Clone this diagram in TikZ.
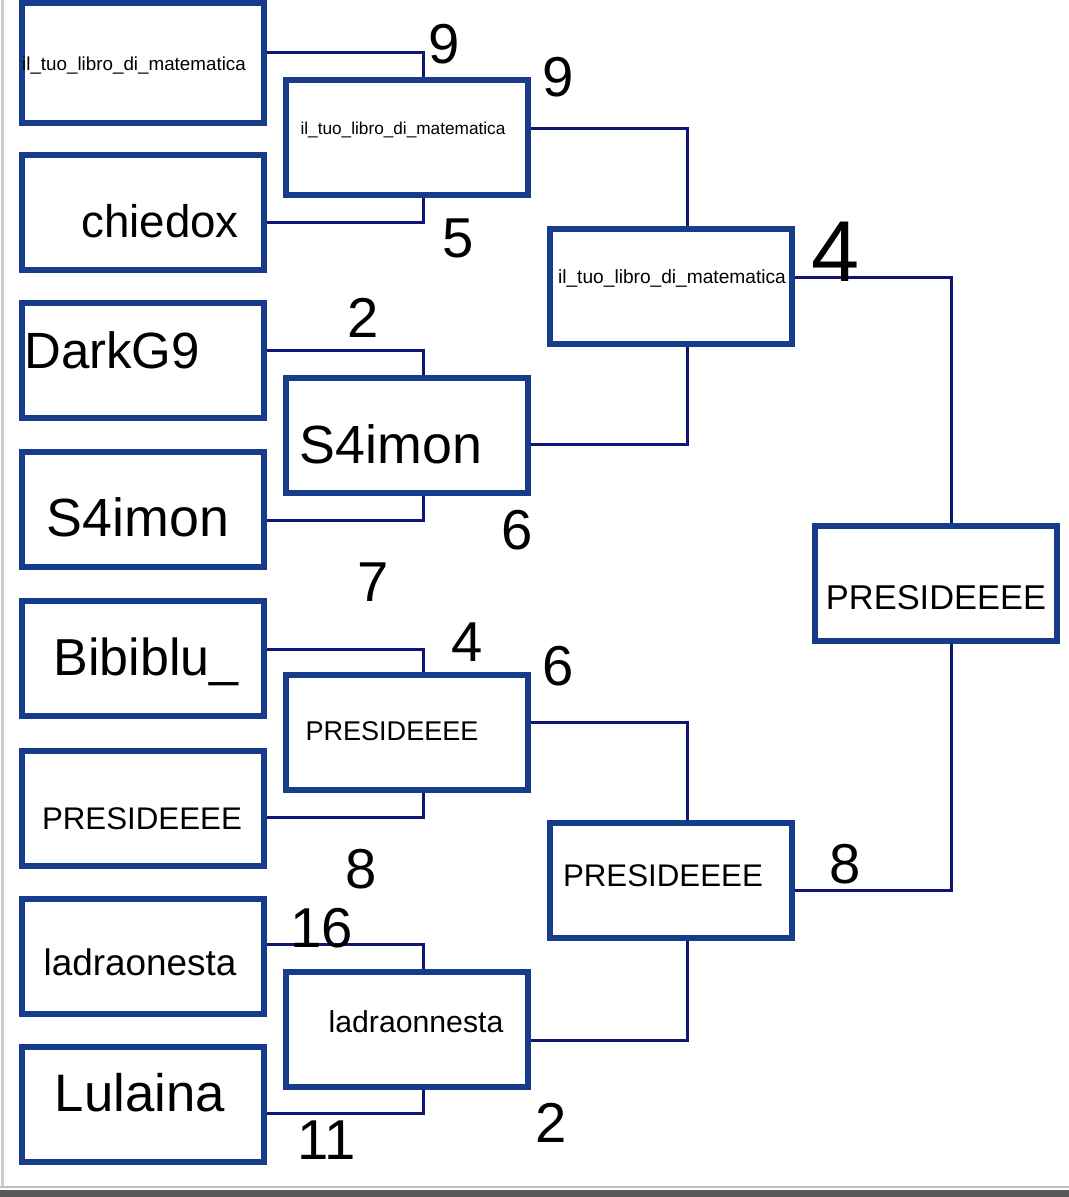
\documentclass[tikz,border=0pt]{standalone}
\usepackage{fontspec}
\setmainfont{Liberation Sans}
\definecolor{boxblue}{RGB}{24,60,140}
\definecolor{linkblue}{RGB}{16,22,120}
\tikzset
{
  slot/.style={draw=boxblue,line width=0.6mm,fill=white,minimum width=2.42cm,minimum height=1.15cm,inner sep=0pt},
  link/.style={draw=linkblue,line width=0.3mm},
  player/.style={inner sep=0pt,font=\fontsize{#1}{#1}\selectfont},
  score/.style={inner sep=0pt,font=\fontsize{16pt}{16pt}\selectfont}
}
\begin{document}
\begin{tikzpicture}[line join=miter]
  \useasboundingbox (0,0) rectangle (10.69,-11.97);
  % cornice
  \draw[gray!40,line width=0.3mm] (0.03,0) -- (0.03,-11.88);
  \draw[gray!50,line width=0.2mm] (0,-11.87) -- (10.69,-11.87);
  \fill[gray!70!black] (0,-11.90) rectangle (10.69,-11.97);
  % primo turno
  \node[slot,minimum height=1.2cm] (b1) at (1.425,-0.63) {};
  \node[slot] (b2) at (1.425,-2.12)  {};
  \node[slot] (b3) at (1.425,-3.60)  {};
  \node[slot] (b4) at (1.425,-5.09)  {};
  \node[slot] (b5) at (1.425,-6.58)  {};
  \node[slot] (b6) at (1.425,-8.08)  {};
  \node[slot] (b7) at (1.425,-9.56)  {};
  \node[slot] (b8) at (1.425,-11.04) {};
  % secondo turno
  \node[slot] (c1) at (4.065,-1.37)  {};
  \node[slot] (c2) at (4.065,-4.35)  {};
  \node[slot] (c3) at (4.065,-7.32)  {};
  \node[slot] (c4) at (4.065,-10.29) {};
  % semifinali e finale
  \node[slot] (d1) at (6.71,-2.865) {};
  \node[slot] (d2) at (6.71,-8.80)  {};
  \node[slot] (f)  at (9.355,-5.83) {};
  % collegamenti
  \draw[link] (b1.east |- 0,-0.52)  -| (c1.north -| 4.23,0);
  \draw[link] (b2.east |- 0,-2.22)  -| (c1.south -| 4.23,0);
  \draw[link] (b3.east |- 0,-3.50)  -| (c2.north -| 4.23,0);
  \draw[link] (b4.east |- 0,-5.20)  -| (c2.south -| 4.23,0);
  \draw[link] (b5.east |- 0,-6.49)  -| (c3.north -| 4.23,0);
  \draw[link] (b6.east |- 0,-8.17)  -| (c3.south -| 4.23,0);
  \draw[link] (b7.east |- 0,-9.44)  -| (c4.north -| 4.23,0);
  \draw[link] (b8.east |- 0,-11.13) -| (c4.south -| 4.23,0);
  \draw[link] (c1.east |- 0,-1.28)  -| (d1.north -| 6.87,0);
  \draw[link] (c2.east |- 0,-4.44)  -| (d1.south -| 6.87,0);
  \draw[link] (c3.east |- 0,-7.22)  -| (d2.north -| 6.87,0);
  \draw[link] (c4.east |- 0,-10.40) -| (d2.south -| 6.87,0);
  \draw[link] (d1.east |- 0,-2.77)  -| (f.north -| 9.51,0);
  \draw[link] (d2.east |- 0,-8.90)  -| (f.south -| 9.51,0);
  % nomi
  \node[player=5.35pt] (tb1) at (1.34,-0.66)  {il\_tuo\_libro\_di\_matematica};
  \node[player=13pt]   (tb2) at (1.60,-2.21)  {chiedox};
  \node[player=14.5pt] (tb3) at (1.12,-3.50)  {DarkG9};
  \node[player=15.3pt] (tb4) at (1.38,-5.17)  {S4imon};
  \node[player=14.8pt] (tb5) at (1.46,-6.62)  {Bibiblu\_};
  \node[player=8.9pt]  (tb6) at (1.42,-8.19)  {PRESIDEEEE};
  \node[player=10.5pt] (tb7) at (1.40,-9.62)  {ladraonesta};
  \node[player=15pt]   (tb8) at (1.40,-10.93) {Lulaina};
  \node[player=4.9pt]  (tc1) at (4.03,-1.30)  {il\_tuo\_libro\_di\_matematica};
  \node[player=15.3pt] (tc2) at (3.91,-4.44)  {S4imon};
  \node[player=7.7pt]  (tc3) at (3.92,-7.31)  {PRESIDEEEE};
  \node[player=8.6pt]  (tc4) at (4.16,-10.22) {ladraonnesta};
  \node[player=5.45pt] (td1) at (6.72,-2.78)  {il\_tuo\_libro\_di\_matematica};
  \node[player=8.9pt]  (td2) at (6.63,-8.76)  {PRESIDEEEE};
  \node[player=9.8pt]  (tf)  at (9.36,-5.98)  {PRESIDEEEE};
  % punteggi
  \node[score] (s1)  at (4.44,-0.44)  {9};
  \node[score] (s2)  at (5.58,-0.77)  {9};
  \node[score] (s3)  at (4.58,-2.38)  {5};
  \node[score,font=\fontsize{24.6pt}{24.6pt}\selectfont] (s4) at (8.36,-2.52) {4};
  \node[score] (s5)  at (3.63,-3.18)  {2};
  \node[score] (s6)  at (5.17,-5.30)  {6};
  \node[score] (s7)  at (3.73,-5.82)  {7};
  \node[score] (s8)  at (4.67,-6.42)  {4};
  \node[score] (s9)  at (5.58,-6.66)  {6};
  \node[score] (s10) at (3.61,-8.69)  {8};
  \node[score] (s11) at (8.45,-8.64)  {8};
  \node[score] (s12) at (3.22,-9.28)  {16};
  \node[score] (s13) at (3.27,-11.40) {11};
  \node[score] (s14) at (5.51,-11.23) {2};
\end{tikzpicture}
\end{document}
